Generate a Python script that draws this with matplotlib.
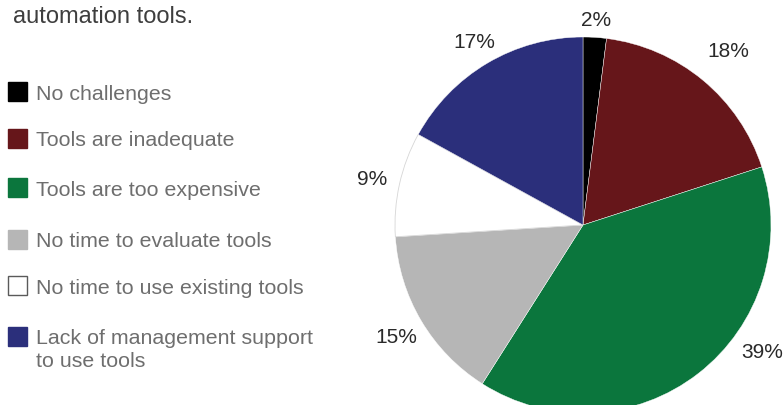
import numpy as np
import matplotlib
matplotlib.use("Agg")
from matplotlib import pyplot as plt
from matplotlib.patches import Rectangle

plt.rcParams["font.family"] = ["Liberation Sans", "DejaVu Sans"]

categories = ["No challenges", "Tools are inadequate", "Tools are too expensive",
              "No time to evaluate tools", "No time to use existing tools",
              "Lack of management support\nto use tools"]
shares = [2, 18, 39, 15, 9, 17]
colors = ["#000000", "#66161a", "#0b763d", "#b6b6b6", "#ffffff", "#2b2f7b"]

W, H = 783, 406
fig = plt.figure(figsize=(W / 100, H / 100), dpi=100)

# pie axes: centre at (583, 226) px, radius 188 px
ax = fig.add_axes([395 / W, (H - 414) / H, 376 / W, 376 / H])
wedges, _ = ax.pie(shares, colors=colors, startangle=90, counterclock=False,
                   radius=1, wedgeprops=dict(linewidth=0.3, edgecolor="white"))
wedges[4].set_edgecolor("#d6d6d6")
wedges[4].set_linewidth(0.6)
ax.set_xlim(-1, 1)
ax.set_ylim(-1, 1)

# percentage labels just outside the rim
cum = np.cumsum([0] + shares)
angles = (cum[:-1] + cum[1:]) / 2 / 100 * 360
angles[2] = 125  # keep the big slice's label inside the frame
radii = [1.10, 1.21, 1.165, 1.155, 1.15, 1.14]
for s, a, r in zip(shares, angles, radii):
    t = np.deg2rad(a)
    ax.text(r * np.sin(t), r * np.cos(t) - 0.005, f"{s}%", ha="center", va="center",
            fontsize=15, color="#2a2a2a", clip_on=False)

fig.text(13 / W, 1 - 23 / H, "automation tools.", fontsize=17, color="#3e3e3e",
         va="baseline", ha="left")

# legend
box_y = [92.5, 139, 188, 240, 286.5, 337]
for name, c, y in zip(categories, colors, box_y):
    edge = "#5a5a5a" if c == "#ffffff" else c
    fig.patches.append(Rectangle((8 / W, 1 - (y + 9.5) / H), 19 / W, 19 / H,
                                 transform=fig.transFigure, facecolor=c,
                                 edgecolor=edge, linewidth=1))
    lines = name.split("\n")
    for i, line in enumerate(lines):
        fig.text(36 / W, 1 - (y + 7.5 + 22.5 * i) / H, line, fontsize=15.4,
                 color="#6e6e6e", va="baseline", ha="left")

fig.savefig("out.png", dpi=100)
